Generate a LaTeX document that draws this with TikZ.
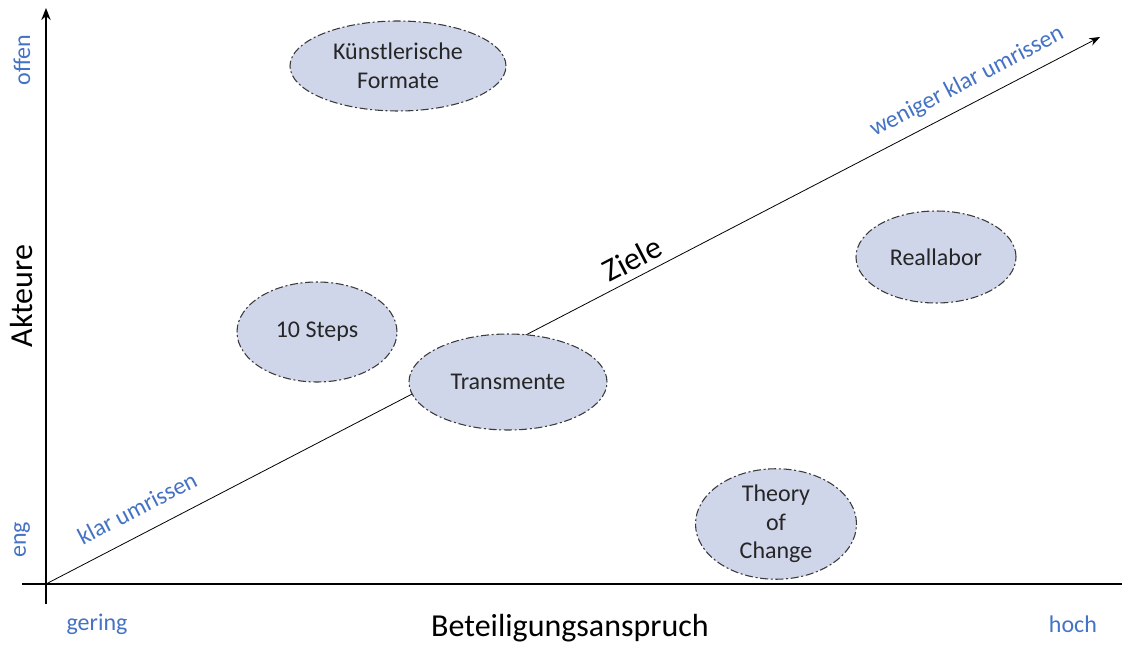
\documentclass[tikz,border=0pt]{standalone}
\usepackage{fontspec}
\setmainfont{Carlito}
\usetikzlibrary{arrows.meta,shapes.geometric}
\definecolor{lblblue}{HTML}{4472C4}
\definecolor{ellfill}{HTML}{D0D6EA}
\definecolor{ellline}{HTML}{3A3A3A}
\tikzset{
  axis/.style={line width=1.5pt, black},
  goal/.style={line width=0.6pt, black},
  method/.style={ellipse, draw=ellline, fill=ellfill, line width=0.8pt,
    dash pattern=on 6pt off 2pt on 1.5pt off 2pt, inner sep=0pt,
    font=\fontsize{18}{21.5}\selectfont, align=center, text=black!85},
  scale label/.style={text=lblblue, font=\fontsize{18}{21}\selectfont},
  axis title/.style={text=black, font=\fontsize{24}{28}\selectfont},
}
\begin{document}
\begin{tikzpicture}[x=0.75pt, y=-0.75pt]
\useasboundingbox (0,0) rectangle (1122,645);

% axes
\coordinate (O) at (46,584);
\coordinate (ytop) at (46,8);
\coordinate (ybot) at (46,604);
\coordinate (xleft) at (22,584);
\coordinate (xright) at (1122,584);
\coordinate (gend) at (1100,37);
\draw[axis, -{Stealth[length=9pt,width=7pt]}] (ybot) -- (ytop);
\draw[axis] (xleft) -- (xright);
\draw[goal, -{Stealth[length=8pt,width=6pt]}] (O) -- (gend);

% methods
\node[method, minimum width=162pt, minimum height=67.5pt] (kuenst) at (398,66) {Künstlerische\\Formate};
\node[method, minimum width=120pt, minimum height=75pt] (steps) at (317,332) {10 Steps};
\node[method, minimum width=148.5pt, minimum height=72pt] (trans) at (508,382) {Transmente};
\node[method, minimum width=120pt, minimum height=69pt] (real) at (936,257) {Reallabor};
\node[method, minimum width=120.75pt, minimum height=72pt] (toc) at (776,524) {Theory\\of\\Change};

% axis titles and scale labels
\node[axis title, rotate=90] (akt) at (22,296) {Akteure};
\node[axis title] (bet) at (570,628) {Beteiligungsanspruch};
\node[axis title, rotate=27.4] (ziele) at (632,259) {Ziele};
\node[scale label, rotate=90] (offen) at (22,60) {offen};
\node[scale label, rotate=90] (eng) at (22,540) {eng};
\node[scale label] (gering) at (97,624) {gering};
\node[scale label] (hoch) at (1073,624) {hoch};
\node[scale label, rotate=27.4] (klar) at (137,508) {klar umrissen};
\node[scale label, rotate=27.4] (wklar) at (967,82) {weniger klar umrissen};
\end{tikzpicture}
\end{document}
